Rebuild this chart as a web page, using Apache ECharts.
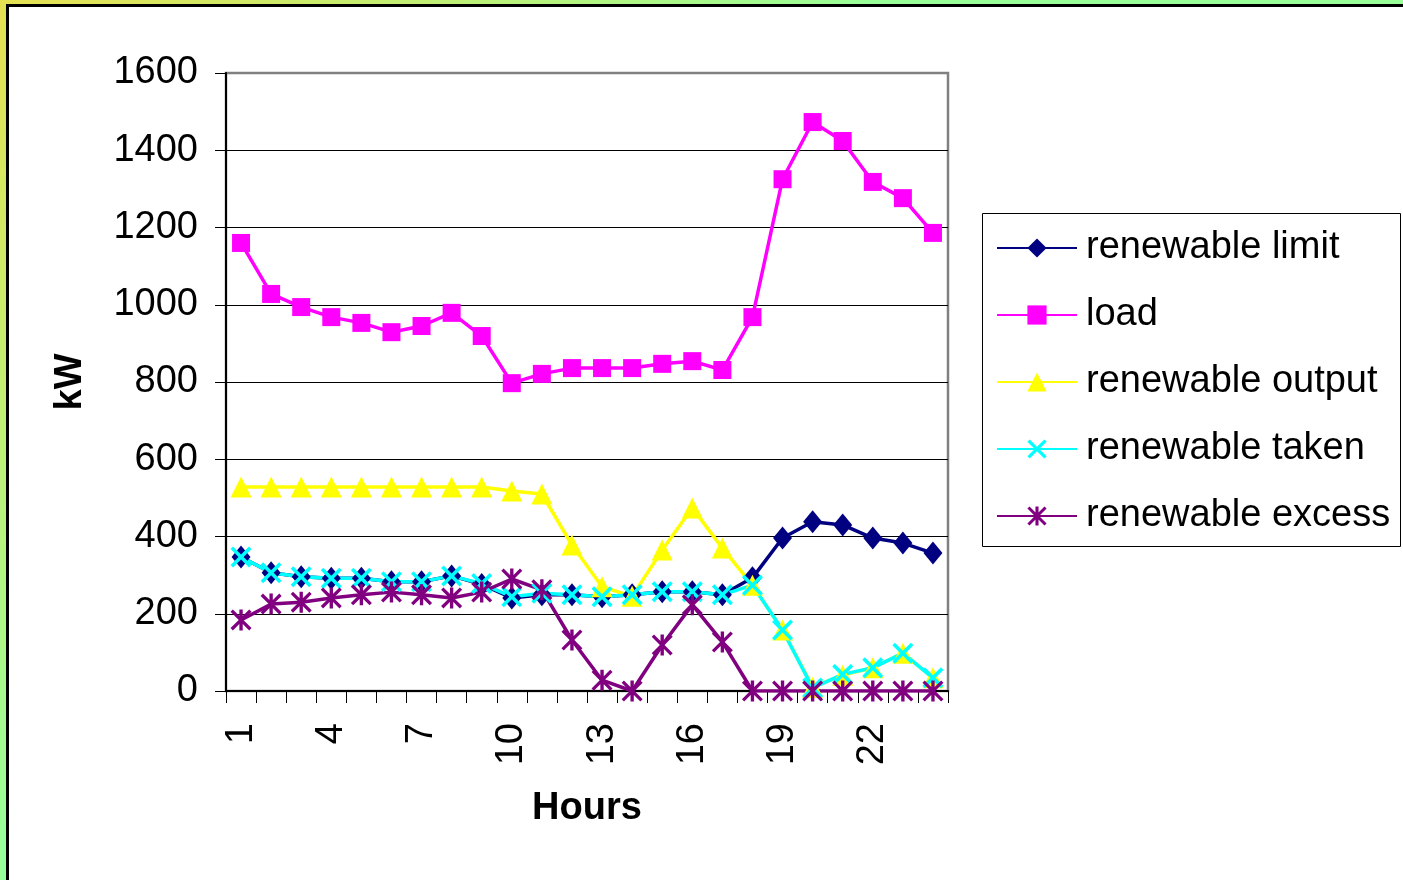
<!DOCTYPE html>
<html>
<head>
<meta charset="utf-8">
<title>Hourly load and renewable power</title>
<script src="https://cdn.jsdelivr.net/npm/echarts@6/dist/echarts.min.js"></script>
<style>
  html, body { margin: 0; padding: 0; background: #ffffff; }
  #chart { width: 1403px; height: 880px; }
</style>
</head>
<body>
<div id="chart"></div>
<script>
// Hours of the day (x axis categories)
const hours = ['1','2','3','4','5','6','7','8','9','10','11','12','13','14','15','16','17','18','19','20','21','22','23','24'];

// Series values, kW
const renewableLimit  = [347, 306, 296, 292, 292, 283, 283, 298, 276, 241, 249, 249, 244, 249, 257, 257, 249, 293, 396, 438, 430, 396, 383, 357];
const load            = [1160, 1028, 994, 968, 953, 929, 945, 979, 919, 797, 821, 836, 836, 836, 847, 854, 831, 968, 1325, 1473, 1424, 1318, 1276, 1186];
const renewableOutput = [528, 528, 528, 528, 528, 528, 528, 528, 528, 518, 510, 378, 270, 245, 365, 474, 370, 274, 158, 10, 41, 60, 98, 34];
const renewableTaken  = [347, 306, 296, 292, 292, 283, 283, 298, 278, 244, 253, 249, 244, 249, 257, 257, 249, 274, 158, 8, 43, 60, 98, 34];
const renewableExcess = [184, 225, 230, 241, 249, 256, 249, 241, 256, 290, 262, 132, 28, 0, 119, 223, 127, 0, 0, 0, 0, 0, 0, 0];

// Y axis range
const yMin = 0, yMax = 1600, yStep = 200;

const FONT = '"Liberation Sans", Arial, Helvetica, sans-serif';

// Marker shapes: a filled "x" cross and an asterisk (cross plus vertical bar)
const CROSS = 'path://M0,12L12,0L50,38L88,0L100,12L62,50L100,88L88,100L50,62L12,100L0,88L38,50Z';
const STAR  = 'path://M0,11L11,0L50,39L89,0L100,11L61,50L100,89L89,100L50,61L11,100L0,89L39,50Z M42,0L58,0L58,100L42,100Z';

function lineSeries(name, data, color, symbol, size) {
  return {
    name: name,
    type: 'line',
    data: data,
    symbol: symbol,
    symbolSize: size,
    showAllSymbol: true,
    lineStyle: { color: color, width: 3.5 },
    itemStyle: { color: color },
    emphasis: { disabled: true },
    animation: false
  };
}

const chart = echarts.init(document.getElementById('chart'), null, { renderer: 'canvas' });

chart.setOption({
  backgroundColor: 'transparent',
  textStyle: { fontFamily: FONT },
  graphic: [
    {
      type: 'rect', z: -10, silent: true,
      shape: { x: 0, y: 0, width: 1403, height: 880 },
      style: {
        fill: new echarts.graphic.LinearGradient(0, 0, 0.3, 0.5, [
          { offset: 0, color: '#e6e052' },
          { offset: 1, color: '#99ff99' }
        ])
      }
    },
    {
      type: 'rect', z: -9, silent: true,
      shape: { x: 7.5, y: 5.5, width: 1500, height: 1000 },
      style: { fill: '#ffffff', stroke: '#000000', lineWidth: 3 }
    },
    {
      type: 'rect', z: 1, silent: true,
      shape: { x: 982.5, y: 213.5, width: 418, height: 333 },
      style: { fill: 'none', stroke: '#000000', lineWidth: 1 }
    }
  ],
  grid: {
    left: 226, top: 73, right: 455, bottom: 189,
    show: true, borderColor: '#808080', borderWidth: 2.5, backgroundColor: '#ffffff'
  },
  legend: {
    orient: 'vertical',
    left: 996, top: 228,
    padding: 0,
    itemWidth: 80, itemHeight: 24, itemGap: 27,
    selectedMode: false,
    textStyle: { fontFamily: FONT, fontSize: 38, color: '#000000', lineHeight: 40, padding: [0, 0, 0, 4] },
    data: ['renewable limit', 'load', 'renewable output', 'renewable taken', 'renewable excess']
  },
  xAxis: {
    type: 'category',
    data: hours,
    boundaryGap: true,
    name: 'Hours',
    nameLocation: 'middle',
    nameGap: 99,
    nameTextStyle: { fontFamily: FONT, fontSize: 38, fontWeight: 'bold', color: '#000000' },
    axisLine: { show: true, onZero: false, lineStyle: { color: '#000000', width: 2 } },
    axisTick: { show: true, interval: 0, length: 12, inside: false, lineStyle: { color: '#000000', width: 1 } },
    axisLabel: { interval: 2, rotate: 90, margin: 32, fontFamily: FONT, fontSize: 38, color: '#000000' },
    splitLine: { show: false }
  },
  yAxis: {
    type: 'value',
    min: yMin, max: yMax, interval: yStep,
    name: 'kW',
    nameLocation: 'middle',
    nameGap: 136,
    nameTextStyle: { fontFamily: FONT, fontSize: 38, fontWeight: 'bold', color: '#000000' },
    axisLine: { show: true, lineStyle: { color: '#000000', width: 2 } },
    axisTick: { show: true, length: 11, inside: false, lineStyle: { color: '#000000', width: 1 } },
    axisLabel: { margin: 28, fontFamily: FONT, fontSize: 38, color: '#000000', formatter: function (v) { return String(v); } },
    splitLine: { show: true, showMaxLine: false, lineStyle: { color: '#000000', width: 1 } }
  },
  series: [
    lineSeries('renewable limit', renewableLimit, '#000080', 'diamond', [19, 23]),
    lineSeries('load', load, '#ff00ff', 'rect', 18),
    lineSeries('renewable output', renewableOutput, '#ffff00', 'triangle', [21, 21]),
    lineSeries('renewable taken', renewableTaken, '#00ffff', CROSS, 21),
    lineSeries('renewable excess', renewableExcess, '#800080', STAR, 21)
  ]
});
</script>
</body>
</html>
